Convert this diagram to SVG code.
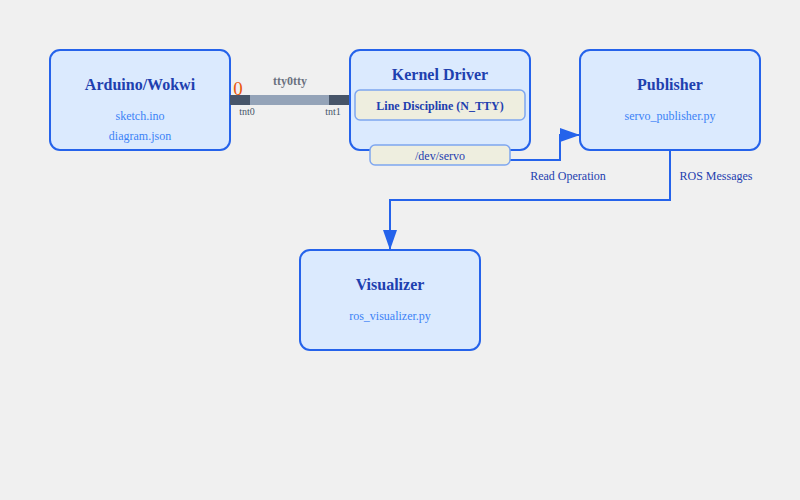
<svg xmlns="http://www.w3.org/2000/svg" width="800" height="500" viewBox="0 0 800 500">
<style>
.node{fill:#dbeafe;stroke:#2563eb;stroke-width:2}
.title{font-family:"Liberation Serif",serif;font-size:16px;font-weight:bold;fill:#1e40af;text-anchor:middle}
.sub{font-family:"Liberation Serif",serif;font-size:12px;fill:#3b82f6;text-anchor:middle}
.inner{fill:#eeeedf;stroke:#7ea6f0;stroke-width:1.5}
.itext{font-family:"Liberation Serif",serif;font-size:12px;fill:#1e40af;text-anchor:middle}
.lbl{font-family:"Liberation Serif",serif;font-size:12px;fill:#1e40af;text-anchor:middle}
.conn{fill:none;stroke:#2563eb;stroke-width:2}
.small{font-family:"Liberation Serif",serif;font-size:10px;fill:#475569;text-anchor:middle}
</style>
<defs>
<marker id="arrL" markerWidth="20" markerHeight="14" refX="20" refY="7" orient="auto" markerUnits="userSpaceOnUse" viewBox="0 0 20 14">
<path d="M0,0 L20,7 L0,14 z" fill="#2563eb"/>
</marker>
</defs>
<rect width="800" height="500" fill="#f0f0f0"/>
<g id="connectors">
<path class="conn" d="M510,160 H560 V135 H580" marker-end="url(#arrL)"/>
<path class="conn" d="M670,150 V200 H390 V250" marker-end="url(#arrL)"/>
<text class="lbl" x="568" y="180">Read Operation</text>
<text class="lbl" x="716" y="180">ROS Messages</text>
</g>
<g id="arduino">
<rect class="node" x="50" y="50" width="180" height="100" rx="10"/>
<text class="title" x="140" y="90">Arduino/Wokwi</text>
<text class="sub" x="140" y="120">sketch.ino</text>
<text class="sub" x="140" y="140">diagram.json</text>
</g>
<g id="cable">
<rect x="230" y="95" width="120" height="10" fill="#94a3b8"/>
<rect x="230" y="95" width="20" height="10" fill="#475569"/>
<rect x="329" y="95" width="21" height="10" fill="#475569"/>
<text x="290" y="85" style="font-family:'Liberation Serif',serif;font-size:12px;font-weight:bold;fill:#6b7280;text-anchor:middle">tty0tty</text>
<text class="small" x="247" y="115">tnt0</text>
<text class="small" x="333" y="115">tnt1</text>
<text x="238" y="95" style="font-family:'Liberation Serif',serif;font-size:19px;fill:#ea580c;text-anchor:middle">0</text>
</g>
<g id="kernel">
<rect class="node" x="350" y="50" width="180" height="100" rx="10"/>
<text class="title" x="440" y="80">Kernel Driver</text>
<rect class="inner" x="355" y="90" width="170" height="30" rx="5"/>
<text class="itext" x="440" y="110" font-weight="bold">Line Discipline (N_TTY)</text>
</g>
<g id="devservo">
<rect class="inner" x="370" y="145" width="140" height="20" rx="5"/>
<text class="itext" x="440" y="160">/dev/servo</text>
</g>
<g id="publisher">
<rect class="node" x="580" y="50" width="180" height="100" rx="10"/>
<text class="title" x="670" y="90">Publisher</text>
<text class="sub" x="670" y="120">servo_publisher.py</text>
</g>
<g id="visualizer">
<rect class="node" x="300" y="250" width="180" height="100" rx="10"/>
<text class="title" x="390" y="290">Visualizer</text>
<text class="sub" x="390" y="320">ros_visualizer.py</text>
</g>
</svg>
